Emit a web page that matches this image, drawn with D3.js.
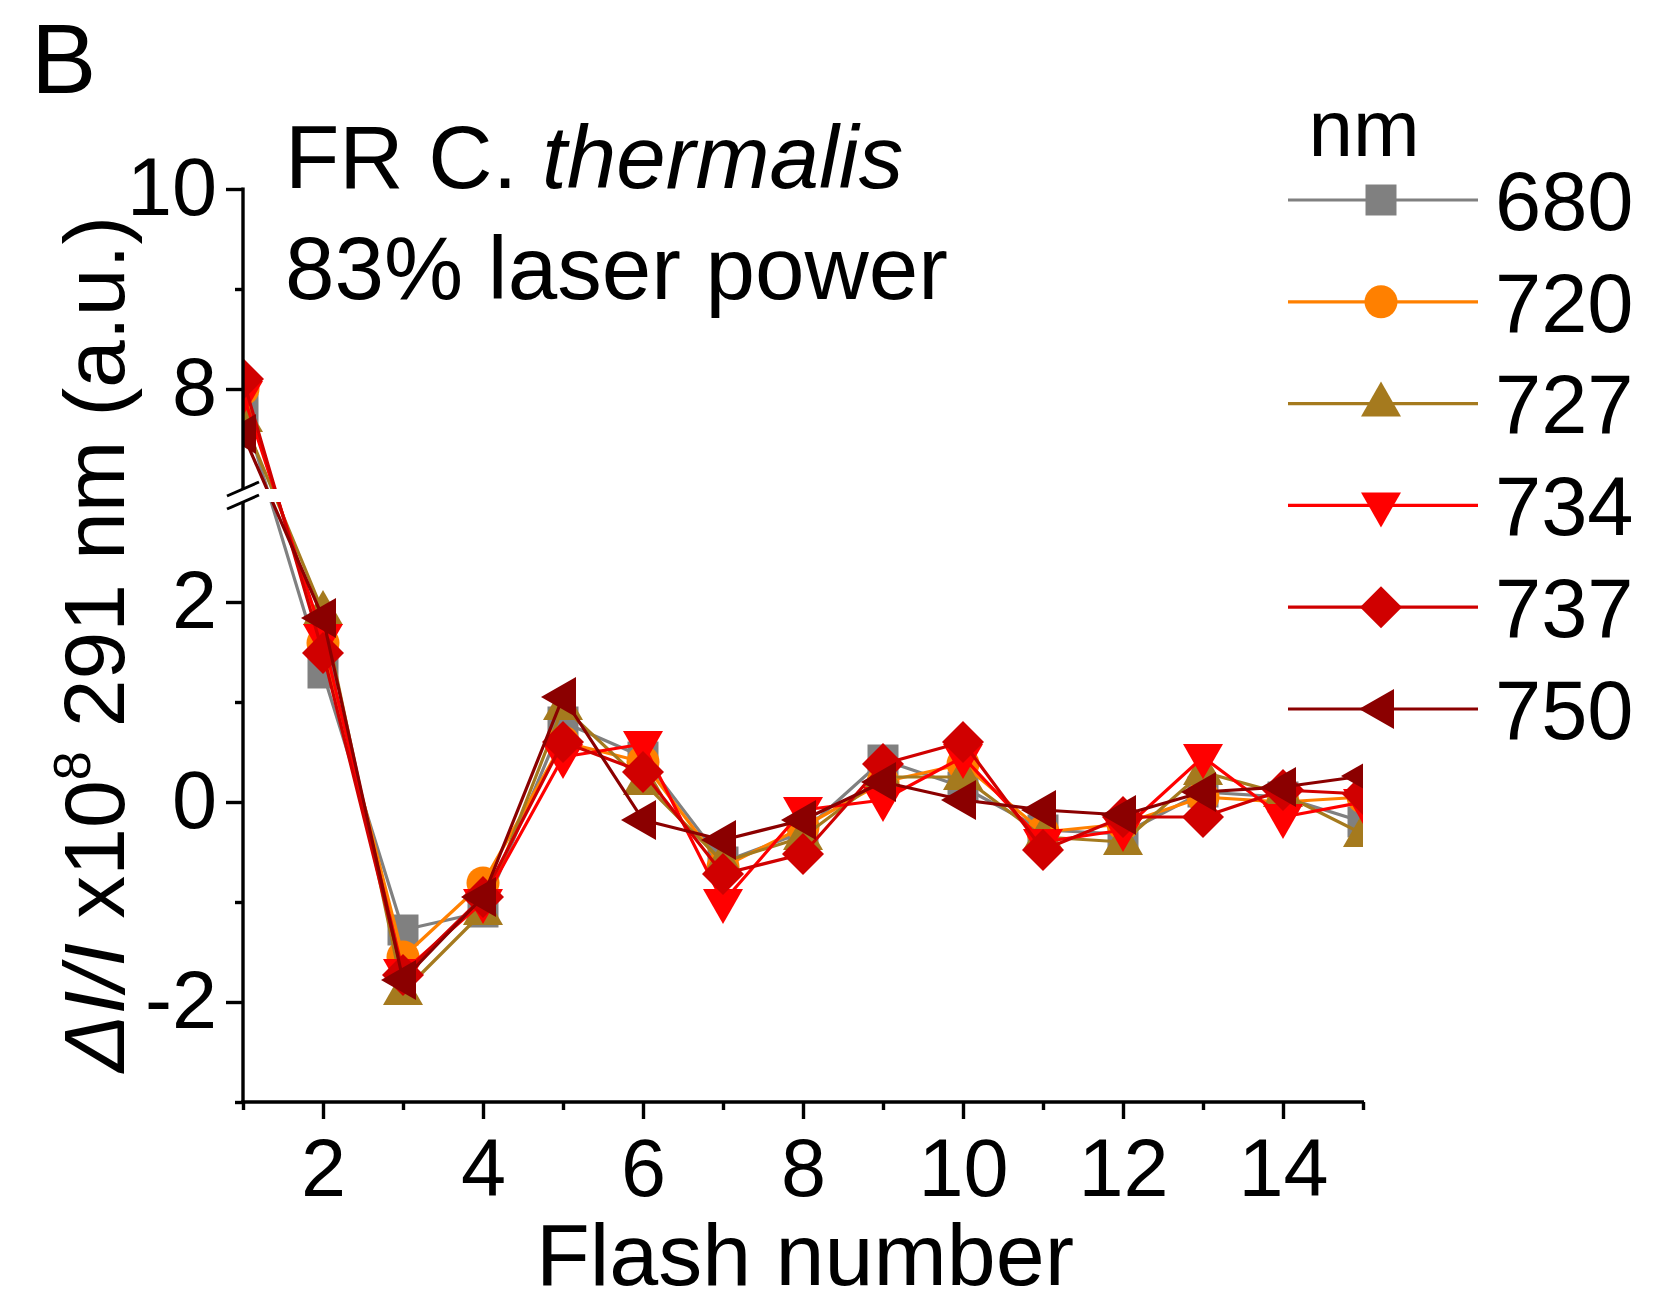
<!DOCTYPE html>
<html>
<head>
<meta charset="utf-8">
<script src="https://cdn.jsdelivr.net/npm/d3@7"></script>
<style>
  html, body { margin: 0; padding: 0; background: #fff; }
  svg { display: block; }
  text { font-family: "Liberation Sans", Arial, sans-serif; fill: #000; }
</style>
</head>
<body>
<svg id="chart" width="1655" height="1305"></svg>
<script>
// ---- data ----
const flashNumbers = [1, 2, 3, 4, 5, 6, 7, 8, 9, 10, 11, 12, 13, 14, 15];
const wavelengths = ["680", "720", "727", "734", "737", "750"];
const s680 = [7.8, 1.29, -1.28, -1.1, 0.8, 0.45, -0.6, -0.3, 0.42, 0.15, -0.28, -0.32, 0.1, 0.05, -0.2];
const s720 = [8.0, 1.59, -1.55, -0.81, 0.6, 0.4, -0.65, -0.25, 0.2, 0.38, -0.3, -0.22, 0.05, 0.0, 0.05];
const s727 = [7.7, 1.9, -1.9, -1.1, 0.95, 0.2, -0.6, -0.35, 0.25, 0.25, -0.35, -0.4, 0.3, 0.08, -0.32];
const s734 = [7.95, 1.65, -1.7, -1.0, 0.45, 0.58, -1.0, -0.08, 0.02, 0.45, -0.4, -0.28, 0.45, -0.15, 0.0];
const s737 = [8.1, 1.49, -1.73, -0.95, 0.6, 0.3, -0.72, -0.52, 0.38, 0.6, -0.48, -0.15, -0.15, 0.12, 0.08];
const s750 = [7.55, 1.84, -1.78, -0.95, 1.05, -0.18, -0.38, -0.18, 0.2, 0.02, -0.08, -0.13, 0.1, 0.15, 0.26];
const seriesValues = [s680, s720, s727, s734, s737, s750];
const seriesColors = ["#808080", "#FF8000", "#A57A1E", "#FF0000", "#D00000", "#8B0000"];
const seriesMarkers = ["square", "circle", "up", "down", "diamond", "left"];
const xMajorTicks = [2, 4, 6, 8, 10, 12, 14];
const xMinorTicks = [1, 3, 5, 7, 9, 11, 13, 15];
const yMajorTicks = [-2, 0, 2, 8, 10];
const yMinorTicks = [-3, -1, 1, 9];
const yBreak = [3, 7];           // axis break: lower segment up to 3, upper from 7
const yLimits = [-3, 10];

// ---- layout ----
const svg = d3.select("#chart");
const L = 243, R = 1363, B = 1102, T = 189;
const breakLow = 502, breakHigh = 489;

const x = d3.scaleLinear().domain([1, 15]).range([L, R]);
const y = d3.scaleLinear()
  .domain([yLimits[0], yBreak[0], yBreak[1], yLimits[1]])
  .range([B, breakLow, breakHigh, T]);

// clip: union of the two axis segments
const defs = svg.append("defs");
const cp = defs.append("clipPath").attr("id", "plotclip");
cp.append("rect").attr("x", L).attr("y", T - 60).attr("width", R - L).attr("height", breakHigh - (T - 60));
cp.append("rect").attr("x", L).attr("y", breakLow).attr("width", R - L).attr("height", B - breakLow);

// ---- marker shapes ----
function markerPath(type) {
  switch (type) {
    case "square": { const h = 15.5; return `M${-h},${-h}H${h}V${h}H${-h}Z`; }
    case "circle": { const r = 16.5; return `M${r},0A${r},${r} 0 1,1 ${-r},0A${r},${r} 0 1,1 ${r},0Z`; }
    case "up": return "M0,-22L20,13L-20,13Z";
    case "down": return "M0,22L20,-13L-20,-13Z";
    case "diamond": return "M0,-21L21,0L0,21L-21,0Z";
    case "left": return "M-22,0L13,-20L13,20Z";
  }
}

// ---- data series ----
const line = d3.line().x((d, i) => x(flashNumbers[i])).y(d => y(d));
const plot = svg.append("g").attr("clip-path", "url(#plotclip)");
seriesValues.forEach((vals, si) => {
  const g = plot.append("g");
  g.append("path")
    .datum(vals)
    .attr("d", line)
    .attr("fill", "none")
    .attr("stroke", seriesColors[si])
    .attr("stroke-width", 3.2)
    .attr("stroke-linejoin", "round");
  g.selectAll("path.m")
    .data(vals)
    .join("path")
    .attr("class", "m")
    .attr("transform", (d, i) => `translate(${x(flashNumbers[i])},${y(d)})`)
    .attr("d", markerPath(seriesMarkers[si]))
    .attr("fill", seriesColors[si]);
});

// ---- axes ----
const axisStroke = 3.4;
const fs = 81;
const fmt = d => String(d);

// X axis
const xAxis = svg.append("g").attr("transform", `translate(0,${B})`)
  .call(d3.axisBottom(x).tickValues(xMajorTicks).tickSize(17).tickSizeOuter(0).tickPadding(19).tickFormat(fmt));
const xAxisMinor = svg.append("g").attr("transform", `translate(0,${B})`)
  .call(d3.axisBottom(x).tickValues(xMinorTicks).tickSize(8).tickSizeOuter(0).tickFormat(""));
[xAxis, xAxisMinor].forEach(g => {
  g.select(".domain").remove();
  g.selectAll("line").attr("stroke", "#000").attr("stroke-width", axisStroke);
});
xAxis.selectAll("text").attr("font-size", fs).attr("font-family", "Liberation Sans, Arial, sans-serif").attr("fill", "#000");
svg.append("line").attr("x1", L - 1.7).attr("x2", R + 1).attr("y1", B).attr("y2", B)
  .attr("stroke", "#000").attr("stroke-width", axisStroke);

// Y axis
const yAxis = svg.append("g").attr("transform", `translate(${L},0)`)
  .call(d3.axisLeft(y).tickValues(yMajorTicks).tickSize(17).tickSizeOuter(0).tickPadding(9).tickFormat(fmt));
const yAxisMinor = svg.append("g").attr("transform", `translate(${L},0)`)
  .call(d3.axisLeft(y).tickValues(yMinorTicks).tickSize(8).tickSizeOuter(0).tickFormat(""));
[yAxis, yAxisMinor].forEach(g => {
  g.select(".domain").remove();
  g.selectAll("line").attr("stroke", "#000").attr("stroke-width", axisStroke);
});
yAxis.selectAll("text").attr("font-size", fs).attr("font-family", "Liberation Sans, Arial, sans-serif").attr("fill", "#000");
// axis segments
svg.append("line").attr("x1", L).attr("x2", L).attr("y1", T - 1.5).attr("y2", breakHigh)
  .attr("stroke", "#000").attr("stroke-width", axisStroke);
svg.append("line").attr("x1", L).attr("x2", L).attr("y1", breakLow).attr("y2", B + 1.7)
  .attr("stroke", "#000").attr("stroke-width", axisStroke);
// break marks
[breakHigh, breakLow].forEach(yy => {
  svg.append("line").attr("x1", L - 16).attr("x2", L + 16).attr("y1", yy + 7).attr("y2", yy - 7)
    .attr("stroke", "#000").attr("stroke-width", 3);
});

// ---- texts ----
svg.append("text").attr("x", 31).attr("y", 93).attr("font-size", 98).text("B");

const t1 = svg.append("text").attr("x", 285).attr("y", 188).attr("font-size", 89);
t1.append("tspan").text("FR C. ");
t1.append("tspan").attr("font-style", "italic").text("thermalis");
svg.append("text").attr("x", 285).attr("y", 299).attr("font-size", 89).text("83% laser power");

// x title
svg.append("text").attr("x", 805).attr("y", 1285).attr("text-anchor", "middle").attr("font-size", 88).text("Flash number");

// y title
const yt = svg.append("text")
  .attr("transform", "translate(124,644) rotate(-90)")
  .attr("text-anchor", "middle").attr("font-size", 86);
yt.append("tspan").attr("font-style", "italic").text("ΔI/I");
yt.append("tspan").text(" x10");
yt.append("tspan").attr("font-size", 52).attr("dy", -34).text("8");
yt.append("tspan").attr("dy", 34).text(" 291 nm (a.u.)");

// ---- legend ----
svg.append("text").attr("x", 1364).attr("y", 156).attr("text-anchor", "middle").attr("font-size", 80).text("nm");
const legY = d3.scaleLinear().domain([0, 5]).range([200, 709]);
wavelengths.forEach((w, i) => {
  const yy = legY(i);
  svg.append("line").attr("x1", 1288).attr("x2", 1478).attr("y1", yy).attr("y2", yy)
    .attr("stroke", seriesColors[i]).attr("stroke-width", 3.2);
  svg.append("path").attr("transform", `translate(1381,${yy})`).attr("d", markerPath(seriesMarkers[i]))
    .attr("fill", seriesColors[i]);
  svg.append("text").attr("x", 1495).attr("y", yy).attr("dy", "0.36em").attr("font-size", 83).text(w);
});
</script>
</body>
</html>
